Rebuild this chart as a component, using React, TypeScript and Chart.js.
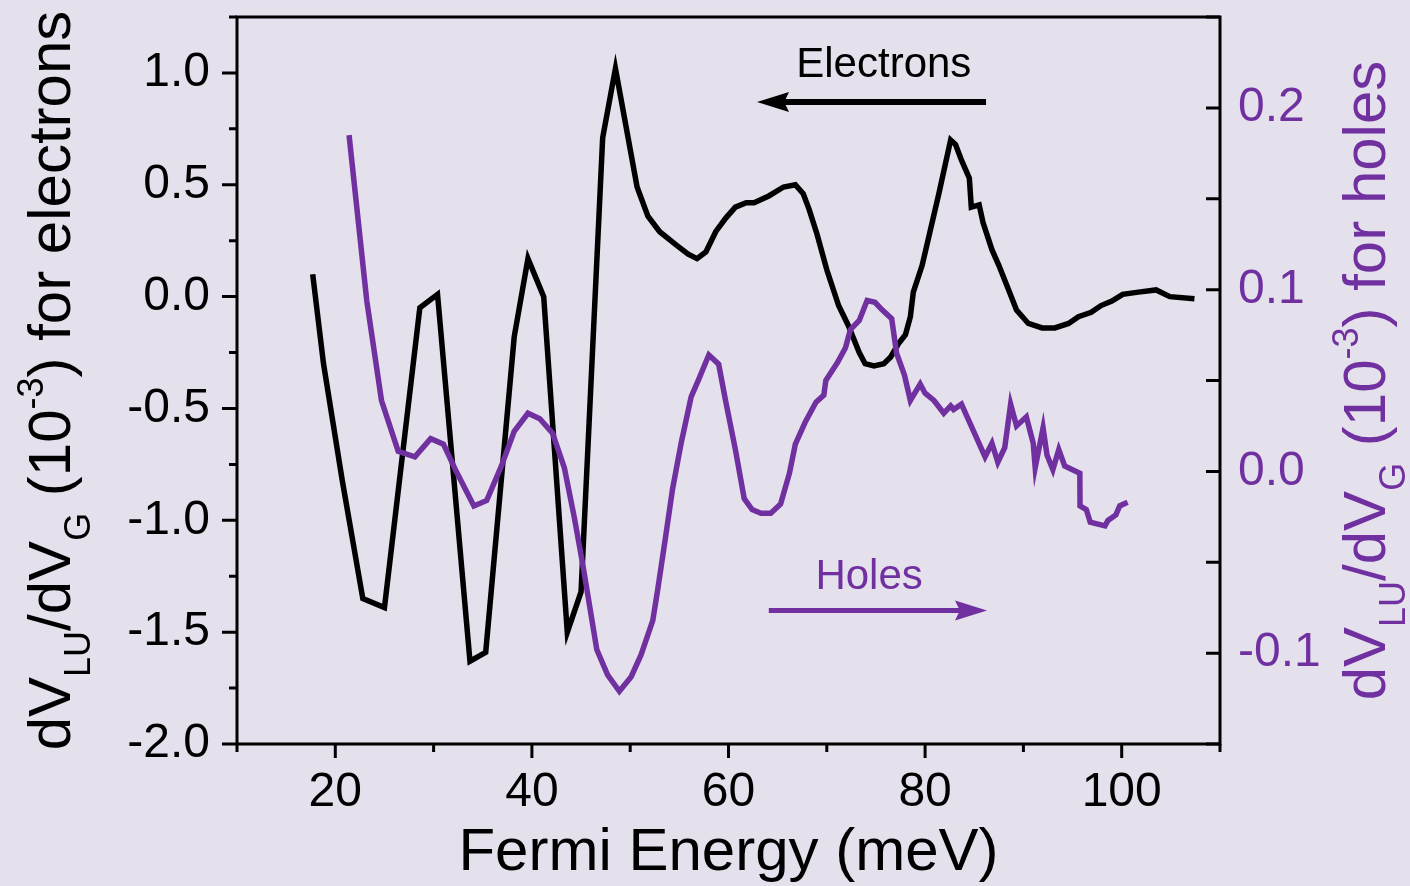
import React, { useEffect, useRef } from 'react';
import { Chart, registerables } from 'chart.js';

Chart.register(...registerables);

const PURPLE = '#7030A0';
const BG = '#E4E0EC';
const FONT = '"Liberation Sans", Arial, Helvetica, sans-serif';

// Electrons: Fermi energy (meV) and dV_LU/dV_G (10^-3), left axis
const electronEnergy = [
  17.7, 18.8, 20.7, 22.8, 25.0, 28.6, 30.4, 33.7, 35.3, 38.2, 39.6, 41.2, 43.6, 45.0,
  47.2, 48.5, 50.7, 51.8, 53.0, 54.7, 55.9, 56.8, 57.7, 58.7, 59.7, 60.7, 61.8, 62.6,
  64.1, 65.6, 66.8, 67.6, 68.2, 69.0, 70.0, 71.2, 72.2, 73.3, 73.9, 74.8, 75.8, 76.5,
  77.3, 78.0, 78.5, 78.8, 79.7, 80.5, 81.4, 82.6, 83.1, 83.7, 84.5, 84.7, 85.5, 85.9,
  86.8, 87.5, 88.5, 89.3, 90.5, 91.9, 93.2, 94.6, 95.6, 96.9, 97.9, 99.0, 100.1, 101.7,
  103.5, 104.9, 107.4,
];
const electronSignal = [
  0.10, -0.30, -0.82, -1.35, -1.39, -0.05, 0.01, -1.63, -1.59, -0.18, 0.17, 0.0, -1.50, -1.32,
  0.71, 1.02, 0.49, 0.36, 0.29, 0.23, 0.19, 0.17, 0.20, 0.29, 0.35, 0.40, 0.42, 0.42,
  0.45, 0.49, 0.50, 0.46, 0.39, 0.28, 0.12, -0.04, -0.13, -0.25, -0.30, -0.31, -0.30, -0.27,
  -0.21, -0.17, -0.09, 0.02, 0.14, 0.29, 0.46, 0.70, 0.68, 0.61, 0.53, 0.40, 0.41, 0.33,
  0.21, 0.14, 0.03, -0.06, -0.12, -0.14, -0.14, -0.12, -0.09, -0.07, -0.04, -0.02, 0.01, 0.02,
  0.03, 0.0, -0.01,
];

// Holes: Fermi energy (meV) and dV_LU/dV_G (10^-3), right axis
const holeEnergy = [
  21.4, 23.2, 24.7, 26.4, 28.1, 29.7, 31.0, 32.3, 34.1, 35.4, 36.9, 38.2, 39.6, 40.8,
  42.1, 43.3, 44.3, 45.2, 46.6, 47.7, 48.9, 50.1, 51.1, 52.3, 52.8, 53.6, 54.3, 55.2,
  56.2, 57.0, 58.0, 59.0, 59.7, 60.7, 61.6, 62.4, 63.3, 64.3, 65.3, 66.2, 66.8, 67.8,
  68.9, 69.7, 69.9, 71.1, 71.9, 72.4, 73.3, 74.1, 74.9, 75.6, 76.6, 77.1, 77.9, 78.5,
  79.5, 80.0, 80.9, 81.9, 82.6, 82.9, 83.7, 84.2, 86.1, 86.8, 87.4, 88.1, 88.7, 89.3,
  90.3, 91.0, 91.2, 92.0, 92.4, 93.0, 93.6, 94.2, 95.74, 95.76, 96.4, 96.8, 98.3, 98.6,
  99.4, 99.8, 100.6,
];
const holeSignal = [
  0.185, 0.094, 0.039, 0.011, 0.008, 0.018, 0.015, 0.0, -0.019, -0.016, 0.003, 0.022, 0.032, 0.029,
  0.021, 0.002, -0.025, -0.052, -0.098, -0.112, -0.121, -0.113, -0.101, -0.082, -0.065, -0.036, -0.010, 0.016,
  0.041, 0.051, 0.064, 0.059, 0.039, 0.012, -0.015, -0.021, -0.023, -0.023, -0.018, -0.001, 0.015, 0.027,
  0.038, 0.042, 0.050, 0.060, 0.068, 0.078, 0.083, 0.094, 0.093, 0.089, 0.084, 0.065, 0.053, 0.039,
  0.048, 0.043, 0.039, 0.032, 0.036, 0.034, 0.037, 0.031, 0.008, 0.0155, 0.005, 0.013, 0.037, 0.025,
  0.030, 0.0155, 0.002, 0.024, 0.009, 0.001, 0.012, 0.003, -0.001, -0.019, -0.021, -0.028, -0.030, -0.027,
  -0.024, -0.019, -0.017,
];

// Axis ticks
const xMajorTicks = [20, 40, 60, 80, 100];
const xMinorTicks = [10, 30, 50, 70, 90, 110];
const leftMajorTicks = [-2, -1.5, -1, -0.5, 0, 0.5, 1];
const leftMinorTicks = [-1.75, -1.25, -0.75, -0.25, 0.25, 0.75, 1.25];
const rightMajorTicks = [-0.1, 0, 0.1, 0.2];
const rightMinorTicks = [-0.15, -0.05, 0.05, 0.15, 0.25];

type Part = { text: string; kind?: 'sub' | 'sup' };
const xTitle = 'Fermi Energy (meV)';
const leftTitle: Part[] = [
  { text: 'dV' }, { text: 'LU', kind: 'sub' }, { text: '/dV' }, { text: 'G', kind: 'sub' },
  { text: ' (10' }, { text: '-3', kind: 'sup' }, { text: ') for electrons' },
];
const rightTitle: Part[] = [
  { text: 'dV' }, { text: 'LU', kind: 'sub' }, { text: '/dV' }, { text: 'G', kind: 'sub' },
  { text: ' (10' }, { text: '-3', kind: 'sup' }, { text: ') for holes' },
];

// Direction markers (data coordinates)
const electronArrow = { from: 86.2, to: 62.9, y: 0.87, label: 'Electrons', labelX: 75.8, labelY: 0.98 };
const holeArrow = { from: 64.1, to: 86.3, y: -0.0766, label: 'Holes', labelX: 74.3, labelY: -0.0647 };

function drawRich(
  ctx: CanvasRenderingContext2D, parts: Part[], x: number, y: number, vertical: boolean, color: string,
) {
  const big = 60, small = 36;
  ctx.save();
  ctx.translate(x, y);
  if (vertical) ctx.rotate(-Math.PI / 2);
  ctx.fillStyle = color;
  ctx.textBaseline = 'alphabetic';
  ctx.textAlign = 'left';
  const widths = parts.map((p) => {
    ctx.font = `${p.kind ? small : big}px ${FONT}`;
    return ctx.measureText(p.text).width;
  });
  const total = widths.reduce((a, b) => a + b, 0);
  let pos = -total / 2;
  parts.forEach((p, i) => {
    ctx.font = `${p.kind ? small : big}px ${FONT}`;
    const shift = p.kind === 'sub' ? 20 : p.kind === 'sup' ? -27 : 0;
    ctx.fillText(p.text, pos, shift);
    pos += widths[i];
  });
  ctx.restore();
}

function drawArrow(ctx: CanvasRenderingContext2D, x0: number, x1: number, y: number, color: string, lw: number) {
  const dir = Math.sign(x1 - x0);
  const headLen = 32, headHalf = 10;
  ctx.save();
  ctx.strokeStyle = color;
  ctx.fillStyle = color;
  ctx.lineWidth = lw;
  ctx.beginPath();
  ctx.moveTo(x0, y);
  ctx.lineTo(x1 - dir * headLen * 0.8, y);
  ctx.stroke();
  ctx.beginPath();
  ctx.moveTo(x1, y);
  ctx.lineTo(x1 - dir * headLen, y - headHalf);
  ctx.lineTo(x1 - dir * headLen * 0.85, y);
  ctx.lineTo(x1 - dir * headLen, y + headHalf);
  ctx.closePath();
  ctx.fill();
  ctx.restore();
}

const framePlugin = {
  id: 'frame',
  afterDatasetsDraw(chart: any) {
    const ctx: CanvasRenderingContext2D = chart.ctx;
    const { left, right, top, bottom } = chart.chartArea;
    const sx = chart.scales.x, sy = chart.scales.y, sy2 = chart.scales.y2;
    ctx.save();
    ctx.strokeStyle = '#000';
    ctx.lineWidth = 3;
    ctx.lineCap = 'square';
    ctx.beginPath();
    ctx.moveTo(left, bottom);
    ctx.lineTo(left, top);
    ctx.lineTo(right, top);
    ctx.lineTo(right, bottom);
    ctx.lineTo(left, bottom);
    ctx.stroke();
    ctx.lineCap = 'butt';
    ctx.beginPath();
    xMajorTicks.forEach((v) => { const p = sx.getPixelForValue(v); ctx.moveTo(p, bottom); ctx.lineTo(p, bottom + 14); });
    xMinorTicks.forEach((v) => { const p = sx.getPixelForValue(v); ctx.moveTo(p, bottom); ctx.lineTo(p, bottom + 8); });
    leftMajorTicks.forEach((v) => { const p = sy.getPixelForValue(v); ctx.moveTo(left, p); ctx.lineTo(left - 15, p); });
    leftMinorTicks.forEach((v) => { const p = sy.getPixelForValue(v); ctx.moveTo(left, p); ctx.lineTo(left - 8, p); });
    [...rightMajorTicks, ...rightMinorTicks].forEach((v) => {
      const p = sy2.getPixelForValue(v); ctx.moveTo(right, p); ctx.lineTo(right - 14, p);
    });
    ctx.stroke();

    // axis titles
    ctx.fillStyle = '#000';
    ctx.font = `60px ${FONT}`;
    ctx.textAlign = 'center';
    ctx.textBaseline = 'alphabetic';
    ctx.fillText(xTitle, (left + right) / 2, 870);
    drawRich(ctx, leftTitle, 70, (top + bottom) / 2, true, '#000');
    drawRich(ctx, rightTitle, 1385, (top + bottom) / 2, true, PURPLE);

    // direction markers
    ctx.font = `42px ${FONT}`;
    ctx.textAlign = 'center';
    ctx.fillStyle = '#000';
    ctx.fillText(electronArrow.label, sx.getPixelForValue(electronArrow.labelX), sy.getPixelForValue(electronArrow.labelY));
    drawArrow(ctx, sx.getPixelForValue(electronArrow.from), sx.getPixelForValue(electronArrow.to),
      sy.getPixelForValue(electronArrow.y), '#000', 6);
    ctx.fillStyle = PURPLE;
    ctx.font = `42px ${FONT}`;
    ctx.textAlign = 'center';
    ctx.fillText(holeArrow.label, sx.getPixelForValue(holeArrow.labelX), sy2.getPixelForValue(holeArrow.labelY));
    drawArrow(ctx, sx.getPixelForValue(holeArrow.from), sx.getPixelForValue(holeArrow.to),
      sy2.getPixelForValue(holeArrow.y), PURPLE, 5);
    ctx.restore();
  },
};

function fixedSize(prop: 'width' | 'height', size: number) {
  return (scale: any) => {
    scale[prop] = size;
    scale.paddingTop = 0;
    scale.paddingBottom = 0;
    scale.paddingLeft = 0;
    scale.paddingRight = 0;
  };
}

export default function App() {
  const ref = useRef<HTMLCanvasElement>(null);

  useEffect(() => {
    const canvas = ref.current;
    if (!canvas) return;
    const chart = new Chart(canvas, {
      type: 'line',
      data: {
        datasets: [
          {
            label: 'Holes',
            data: holeEnergy.map((x, i) => ({ x, y: holeSignal[i] })),
            yAxisID: 'y2',
            borderColor: PURPLE,
            borderWidth: 5.5,
            pointRadius: 0,
            tension: 0,
            order: 1,
          },
          {
            label: 'Electrons',
            data: electronEnergy.map((x, i) => ({ x, y: electronSignal[i] })),
            yAxisID: 'y',
            borderColor: '#000',
            borderWidth: 5.5,
            pointRadius: 0,
            tension: 0,
            order: 2,
          },
        ],
      },
      options: {
        responsive: false,
        animation: false,
        devicePixelRatio: 1,
        layout: { padding: { top: 17, left: 0, right: 0, bottom: 0 } },
        plugins: { legend: { display: false }, tooltip: { enabled: false } },
        scales: {
          x: {
            type: 'linear',
            position: 'bottom',
            min: 10,
            max: 110,
            afterBuildTicks: (s: any) => { s.ticks = xMajorTicks.map((value) => ({ value })); },
            afterFit: fixedSize('height', 142),
            grid: { display: false, drawTicks: false },
            border: { display: false },
            ticks: { color: '#000', font: { family: FONT, size: 48 }, padding: 20, maxRotation: 0, callback: (v: any) => String(v) },
          },
          y: {
            type: 'linear',
            position: 'left',
            min: -2,
            max: 1.25,
            afterBuildTicks: (s: any) => { s.ticks = leftMajorTicks.map((value) => ({ value })); },
            afterFit: fixedSize('width', 237),
            grid: { display: false, drawTicks: false },
            border: { display: false },
            ticks: { color: '#000', font: { family: FONT, size: 48 }, padding: 27, callback: (v: any) => Number(v).toFixed(1) },
          },
          y2: {
            type: 'linear',
            position: 'right',
            min: -0.15,
            max: 0.25,
            afterBuildTicks: (s: any) => { s.ticks = rightMajorTicks.map((value) => ({ value })); },
            afterFit: fixedSize('width', 190),
            grid: { display: false, drawTicks: false },
            border: { display: false },
            ticks: { color: PURPLE, font: { family: FONT, size: 48 }, padding: 18, callback: (v: any) => Number(v).toFixed(1) },
          },
        },
      },
      plugins: [framePlugin],
    });
    return () => chart.destroy();
  }, []);

  return (
    <div style={{ position: 'fixed', left: 0, top: 0, width: 1410, height: 886, background: BG }}>
      <canvas ref={ref} width={1410} height={886} style={{ display: 'block' }} />
    </div>
  );
}
